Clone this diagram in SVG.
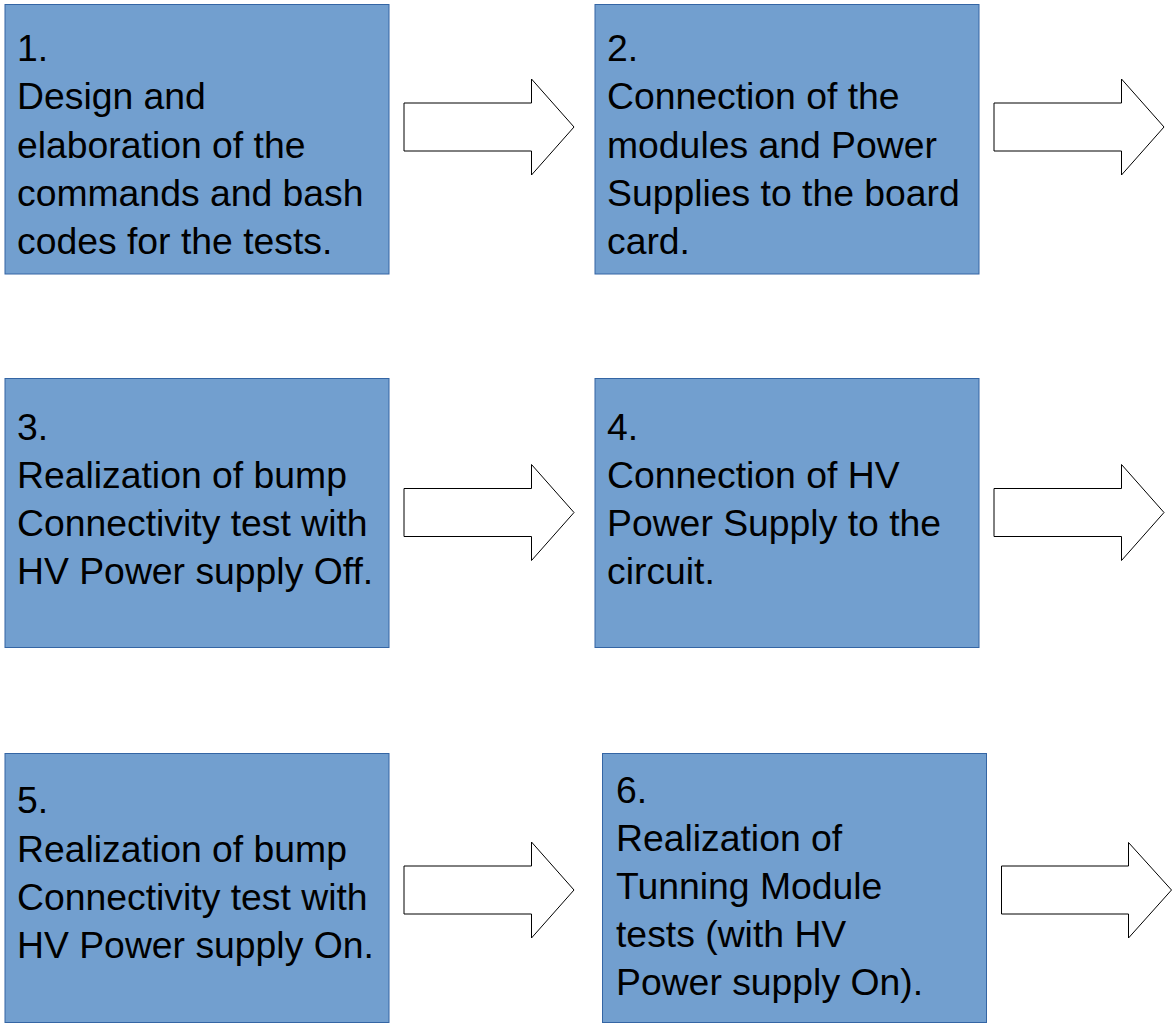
<svg xmlns="http://www.w3.org/2000/svg" width="1174" height="1023" viewBox="0 0 1174 1023">
<style>
.box{fill:#729fcf;stroke:#3465a4;stroke-width:1}
.lbl{font-family:"Liberation Sans",Arial,sans-serif;font-size:37.33px;fill:#000}
.arr{fill:#fff;stroke:#000;stroke-width:1}
</style>
<rect width="1174" height="1023" fill="#fff"/>
<g id="node1">
<rect class="box" x="5" y="4.5" width="384" height="269.5"/>
<text class="lbl" x="17"><tspan x="17" y="61">1.</tspan><tspan x="17" y="109.3">Design and</tspan><tspan x="17" y="157.5">elaboration of the</tspan><tspan x="17" y="205.8">commands and bash</tspan><tspan x="17" y="254">codes for the tests.</tspan></text>
</g>
<g id="node2">
<rect class="box" x="595" y="4.5" width="384" height="269.5"/>
<text class="lbl"><tspan x="607" y="61">2.</tspan><tspan x="607" y="109.3">Connection of the</tspan><tspan x="607" y="157.5">modules and Power</tspan><tspan x="607" y="205.8">Supplies to the board</tspan><tspan x="607" y="254">card.</tspan></text>
</g>
<g id="node3">
<rect class="box" x="5" y="378.5" width="384" height="269"/>
<text class="lbl"><tspan x="17" y="440">3.</tspan><tspan x="17" y="488.3">Realization of bump</tspan><tspan x="17" y="536">Connectivity test with</tspan><tspan x="17" y="584">HV Power supply Off.</tspan></text>
</g>
<g id="node4">
<rect class="box" x="595" y="378.5" width="384" height="269"/>
<text class="lbl"><tspan x="607" y="440">4.</tspan><tspan x="607" y="488.3">Connection of HV</tspan><tspan x="607" y="536">Power Supply to the</tspan><tspan x="607" y="584">circuit.</tspan></text>
</g>
<g id="node5">
<rect class="box" x="5" y="753.5" width="384" height="269"/>
<text class="lbl"><tspan x="17" y="813">5.</tspan><tspan x="17" y="861.5">Realization of bump</tspan><tspan x="17" y="910">Connectivity test with</tspan><tspan x="17" y="958">HV Power supply On.</tspan></text>
</g>
<g id="node6">
<rect class="box" x="602.5" y="753.5" width="384" height="269"/>
<text class="lbl"><tspan x="616" y="803">6.</tspan><tspan x="616" y="851">Realization of</tspan><tspan x="616" y="899">Tunning Module</tspan><tspan x="616" y="947">tests (with HV</tspan><tspan x="616" y="995">Power supply On).</tspan></text>
</g>
<g id="connectors">
<polygon class="arr" points="404,103 531.5,103 531.5,79 574,127 531.5,175 531.5,151 404,151"/>
<polygon class="arr" points="994,103 1121.5,103 1121.5,79 1164,127 1121.5,175 1121.5,151 994,151"/>
<polygon class="arr" points="404,488.5 531.5,488.5 531.5,464.5 574,512.5 531.5,560.5 531.5,536.5 404,536.5"/>
<polygon class="arr" points="994,488.5 1121.5,488.5 1121.5,464.5 1164,512.5 1121.5,560.5 1121.5,536.5 994,536.5"/>
<polygon class="arr" points="404,866 531.5,866 531.5,842 574,890 531.5,938 531.5,914 404,914"/>
<polygon class="arr" points="1001.5,866 1128.5,866 1128.5,842.5 1171.5,890 1128.5,938 1128.5,914 1001.5,914"/>
</g>
</svg>
